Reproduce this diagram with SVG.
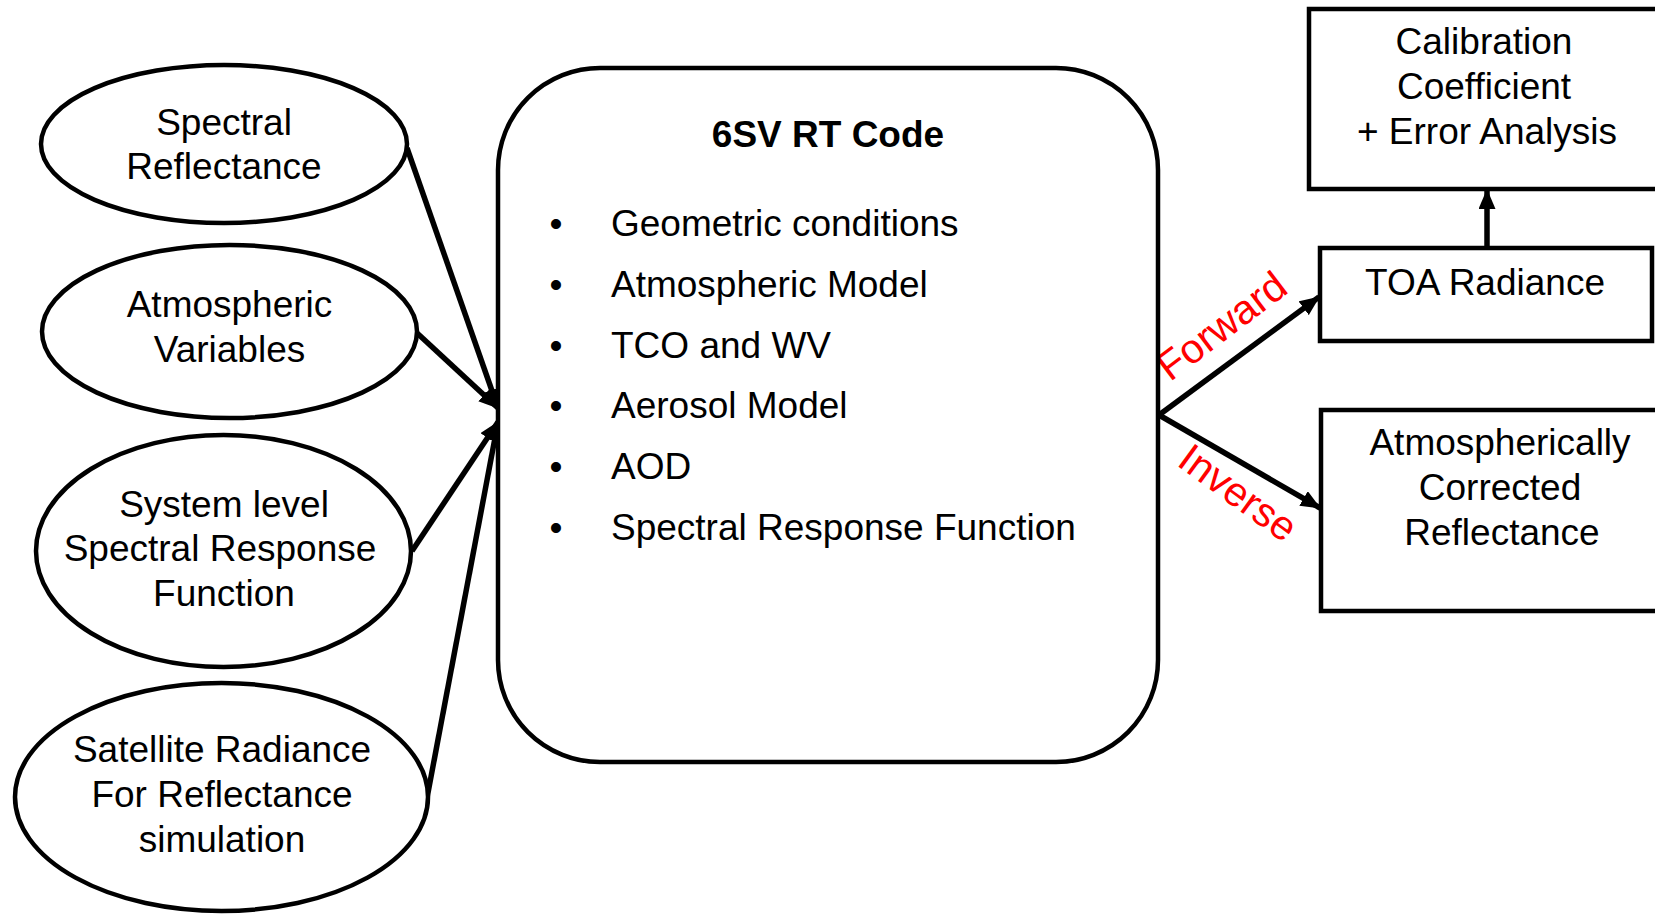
<svg xmlns="http://www.w3.org/2000/svg" width="1655" height="914" viewBox="0 0 1655 914">
<defs>
<style>
.shape{fill:#fff;stroke:#000;stroke-width:4.5}
.t{font-family:"Liberation Sans",Arial,sans-serif;font-size:37px;fill:#000}
.c{text-anchor:middle}
.b{font-weight:bold}
.red{font-family:"Liberation Sans",Arial,sans-serif;font-size:41px;fill:#f00;text-anchor:middle}
.conn{stroke:#000;stroke-width:5.5;fill:none;marker-end:url(#ah)}
</style>
<marker id="ah" markerUnits="userSpaceOnUse" markerWidth="20" markerHeight="17" refX="19" refY="8.5" orient="auto" viewBox="0 0 20 17">
<path d="M0,0 L20,8.5 L0,17 Z" fill="#000"/>
</marker>
</defs>
<rect width="1655" height="914" fill="#fff"/>
<g id="connectors">
<line class="conn" x1="407" y1="148" x2="498" y2="408"/>
<line class="conn" x1="417" y1="333" x2="498" y2="408"/>
<line class="conn" x1="412" y1="551" x2="498" y2="422"/>
<line class="conn" x1="427" y1="798" x2="498" y2="422"/>
<line class="conn" x1="1159" y1="415" x2="1319" y2="297"/>
<line class="conn" x1="1159" y1="415" x2="1320" y2="508"/>
<line class="conn" x1="1487" y1="248" x2="1487" y2="190"/>
<text class="red" transform="translate(1230,337) rotate(-37)">Forward</text>
<text class="red" transform="translate(1230,504) rotate(36)">Inverse</text>
</g>
<g id="spectral-reflectance">
<ellipse class="shape" cx="224" cy="144" rx="183" ry="79"/>
<text class="t c" x="224" y="135">Spectral</text>
<text class="t c" x="224" y="179">Reflectance</text>
</g>
<g id="atmospheric-variables">
<ellipse class="shape" cx="229.5" cy="331.5" rx="187.5" ry="86.5"/>
<text class="t c" x="229.5" y="317">Atmospheric</text>
<text class="t c" x="229.5" y="362">Variables</text>
</g>
<g id="system-srf">
<ellipse class="shape" cx="223.5" cy="551" rx="187.5" ry="116"/>
<text class="t c" x="224" y="517">System level</text>
<text class="t c" x="220" y="561">Spectral Response</text>
<text class="t c" x="224" y="606">Function</text>
</g>
<g id="satellite-radiance">
<ellipse class="shape" cx="221.5" cy="797" rx="206.5" ry="114"/>
<text class="t c" x="222" y="762">Satellite Radiance</text>
<text class="t c" x="222" y="807">For Reflectance</text>
<text class="t c" x="222" y="852">simulation</text>
</g>
<g id="rt-code">
<rect class="shape" x="498" y="68" width="660" height="694" rx="102" ry="102"/>
<text class="t c b" x="828" y="147">6SV RT Code</text>
<g class="t">
<text x="556" y="236" class="c">•</text><text x="611" y="236">Geometric conditions</text>
<text x="556" y="297" class="c">•</text><text x="611" y="297">Atmospheric Model</text>
<text x="556" y="358" class="c">•</text><text x="611" y="358">TCO and WV</text>
<text x="556" y="418" class="c">•</text><text x="611" y="418">Aerosol Model</text>
<text x="556" y="479" class="c">•</text><text x="611" y="479">AOD</text>
<text x="556" y="540" class="c">•</text><text x="611" y="540">Spectral Response Function</text>
</g>
</g>
<g id="calibration">
<rect class="shape" x="1309" y="9" width="360" height="180"/>
<text class="t c" x="1484" y="54">Calibration</text>
<text class="t c" x="1484" y="99">Coefficient</text>
<text class="t c" x="1487" y="144">+ Error Analysis</text>
</g>
<g id="toa-radiance">
<rect class="shape" x="1320" y="248" width="332" height="93"/>
<text class="t c" x="1485" y="295">TOA Radiance</text>
</g>
<g id="corrected-reflectance">
<rect class="shape" x="1321" y="410" width="350" height="201"/>
<text class="t c" x="1500" y="455">Atmospherically</text>
<text class="t c" x="1500" y="500">Corrected</text>
<text class="t c" x="1502" y="545">Reflectance</text>
</g>
</svg>
